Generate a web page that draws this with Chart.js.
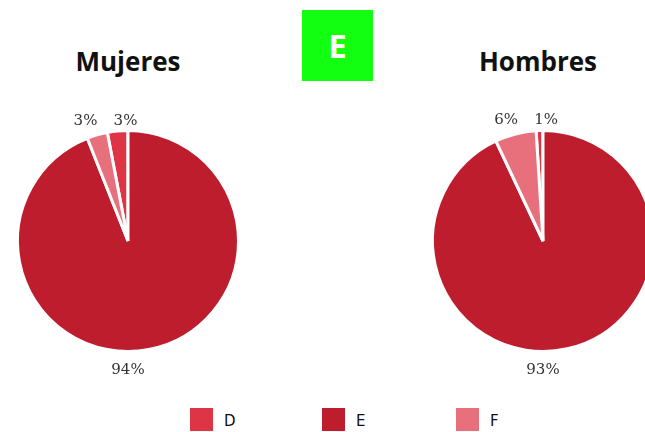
<!DOCTYPE html>
<html lang="es">
<head>
<meta charset="UTF-8">
<title>E</title>
<script src="https://cdn.jsdelivr.net/npm/chart.js"></script>
<style>
	html, body {
		margin: 0;
		padding: 0;
		width: 645px;
		height: 432px;
		overflow: hidden;
		background: #fff;
		font-family: 'DejaVu Sans', sans-serif;
		position: relative;
	}
	.badge {
		position: absolute;
		left: 302px;
		top: 10px;
		width: 71px;
		height: 71px;
		background: #12ff12;
		color: #fff;
		font-weight: bold;
		font-size: 33px;
		line-height: 71px;
		text-align: center;
		font-family: 'Open Sans', sans-serif;
	}
	.title {
		position: absolute;
		top: 43px;
		width: 260px;
		text-align: center;
		font-weight: bold;
		font-size: 26px;
		line-height: 36px;
		color: #111;
		font-family: 'Open Sans', sans-serif;
	}
	.box {
		position: absolute;
		width: 260px;
		height: 290px;
		top: 101px;
	}
	.legend {
		position: absolute;
		top: 408px;
		left: 0;
		width: 645px;
		font-size: 15px;
		color: #111;
	}
	.legend span {
		position: absolute;
		display: block;
	}
	.legend .sw {
		width: 23px;
		height: 23px;
	}
</style>
</head>
<body>
	<div class="badge">E</div>
	<div class="title" style="left:-2px">Mujeres</div>
	<div class="title" style="left:408px">Hombres</div>
	<div class="box" style="left:-2px"><canvas id="pie-m"></canvas></div>
	<div class="box" style="left:413px"><canvas id="pie-h"></canvas></div>
	<div class="legend" id="legend"></div>

<script>
	const categories = ['D', 'E', 'F'];
	const colors = ['#dd3545', '#bd1d2d', '#e8707c'];
	const mujeres = [3, 94, 3];
	const hombres = [1, 93, 6];

	// percentage labels outside the pie, pushed apart when they collide
	const outsideLabels = {
		id: 'outsideLabels',
		afterDatasetsDraw(chart) {
			const ctx = chart.ctx;
			const meta = chart.getDatasetMeta(0);
			const values = chart.data.datasets[0].data;
			const total = values.reduce((a, b) => a + b, 0);
			ctx.save();
			ctx.font = '15px "DejaVu Serif", serif';
			ctx.fillStyle = '#333';
			ctx.textAlign = 'center';
			ctx.textBaseline = 'middle';
			let items = [];
			meta.data.forEach((arc, i) => {
				const p = arc.getProps(['x', 'y', 'startAngle', 'endAngle', 'outerRadius'], true);
				let a = (p.startAngle + p.endAngle) / 2;
				const span = p.endAngle - p.startAngle;
				// big slices get their label at the bottom of the pie
				if (span > Math.PI) {
					let bottom = Math.PI / 2;
					while (bottom < p.startAngle) bottom += Math.PI * 2;
					if (bottom <= p.endAngle) a = bottom;
				}
				const r = p.outerRadius + (Math.sin(a) < 0 ? 10 : 19);
				items.push({
					text: Math.round(values[i] / total * 100) + '%',
					x: p.x + Math.cos(a) * r,
					y: p.y + Math.sin(a) * r
				});
			});
			const minGap = 40;
			for (let i = 0; i < items.length; i++) {
				for (let j = i + 1; j < items.length; j++) {
					const A = items[i], B = items[j];
					if (Math.abs(A.y - B.y) < 16 && Math.abs(A.x - B.x) < minGap) {
						const mid = (A.x + B.x) / 2;
						if (A.x <= B.x) { A.x = mid - minGap / 2; B.x = mid + minGap / 2; }
						else { A.x = mid + minGap / 2; B.x = mid - minGap / 2; }
						const my = Math.min(A.y, B.y);
						A.y = my; B.y = my;
					}
				}
			}
			items.forEach(it => ctx.fillText(it.text, it.x, it.y));
			ctx.restore();
		}
	};

	function makePie(id, values) {
		const startShift = -values[0] / 100 * 360;
		return new Chart(document.getElementById(id), {
			type: 'pie',
			data: {
				labels: categories,
				datasets: [{
					data: values,
					backgroundColor: colors,
					borderColor: '#fff',
					borderWidth: 3
				}]
			},
			options: {
				responsive: true,
				maintainAspectRatio: false,
				animation: false,
				rotation: startShift,
				layout: { padding: { top: 28, bottom: 38, left: 18, right: 18 } },
				plugins: {
					legend: { display: false },
					tooltip: { enabled: false }
				}
			},
			plugins: [outsideLabels]
		});
	}

	makePie('pie-m', mujeres);
	makePie('pie-h', hombres);

	// legend
	const legendX = [190, 322, 456];
	const legend = document.getElementById('legend');
	categories.forEach((c, i) => {
		const sw = document.createElement('span');
		sw.className = 'sw';
		sw.style.left = legendX[i] + 'px';
		sw.style.background = colors[i];
		legend.appendChild(sw);
		const t = document.createElement('span');
		t.textContent = c;
		t.style.left = (legendX[i] + 34) + 'px';
		t.style.top = '4px';
		legend.appendChild(t);
	});
</script>
</body>
</html>
